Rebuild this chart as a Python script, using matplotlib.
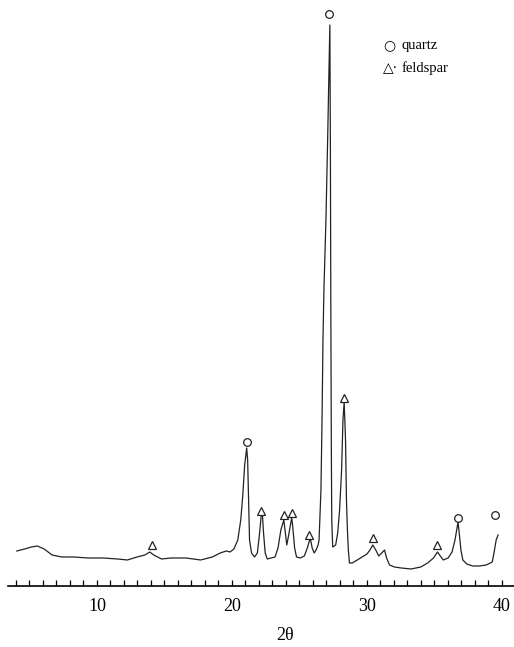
import matplotlib.pyplot as plt

# XRD pattern (2theta in degrees, intensity in arbitrary units)
two_theta = [
    4.06, 4.64, 5.14, 5.58, 6.09, 6.67, 7.39, 8.26, 9.35, 10.43,
    11.52, 12.25, 12.97, 13.55, 13.91, 14.20, 14.78, 15.51, 16.59, 17.68,
    18.55, 19.13, 19.57, 19.86, 20.14, 20.43, 20.65, 20.80, 20.94, 21.09,
    21.16, 21.23, 21.30, 21.45, 21.67, 21.88, 22.03, 22.17, 22.25, 22.32,
    22.46, 22.61, 22.90, 23.19, 23.41, 23.62, 23.84, 23.91, 24.06, 24.20,
    24.42, 24.49, 24.64, 24.78, 25.07, 25.36, 25.58, 25.80, 25.94, 26.09,
    26.23, 26.38, 26.45, 26.59, 26.67, 26.74, 26.81, 26.96, 27.10, 27.17,
    27.25, 27.29, 27.32, 27.36, 27.39, 27.46, 27.68, 27.83, 27.97, 28.12,
    28.22, 28.31, 28.41, 28.48, 28.55, 28.62, 28.70, 28.91, 29.28, 29.64,
    30.00, 30.22, 30.43, 30.65, 30.87, 31.09, 31.30, 31.45, 31.67, 32.03,
    32.54, 33.26, 33.99, 34.49, 34.93, 35.22, 35.43, 35.65, 36.01, 36.30,
    36.52, 36.67, 36.74, 36.81, 36.96, 37.10, 37.39, 37.83, 38.33, 38.84,
    39.28, 39.42, 39.57, 39.71,
]
intensity = [
    35, 37, 39, 40, 37, 31, 29, 29, 28, 28,
    27, 26, 29, 31, 34, 31, 27, 28, 28, 26,
    29, 33, 35, 34, 37, 46, 66, 91, 121, 138,
    126, 86, 46, 33, 29, 33, 51, 71, 73, 56,
    33, 27, 28, 29, 38, 56, 66, 58, 41, 51,
    68, 61, 38, 29, 28, 30, 38, 48, 38, 33,
    36, 41, 46, 96, 166, 246, 296, 366, 456, 506,
    561, 436, 286, 136, 66, 39, 41, 53, 76, 116,
    166, 184, 146, 86, 56, 36, 23, 23, 26, 29,
    32, 36, 41, 36, 30, 33, 36, 28, 21, 19,
    18, 17, 19, 23, 28, 34, 30, 26, 28, 34,
    46, 58, 64, 56, 36, 26, 22, 20, 20, 21,
    24, 34, 46, 51,
]

# peak labels
quartz_pos = [27.17, 21.09, 36.74, 39.50]
quartz_int = [572, 144, 68, 71]
feldspar_pos = [14.06, 22.17, 23.84, 24.42, 25.72, 28.33, 30.43, 35.22]
feldspar_int = [41, 75, 71, 73, 51, 188, 48, 41]

fig = plt.figure(figsize=(5.14, 6.47), dpi=100)
ax = fig.add_axes([0.0156, 0.0943, 0.9844, 0.9057])

ax.plot(two_theta, intensity, color='#222222', lw=0.9)
ax.plot(quartz_pos, quartz_int, 'o', mfc='white', mec='#222222', ms=5.5, mew=0.9)
ax.plot(feldspar_pos, feldspar_int, '^', mfc='white', mec='#222222', ms=5.5, mew=0.9)

ax.set_xlim(3.41, 40.89)
ax.set_ylim(0, 586)

for s in ['left', 'right', 'top']:
    ax.spines[s].set_visible(False)
ax.spines['bottom'].set_linewidth(1.2)
ax.set_yticks([])
ax.set_xticks([10, 20, 30, 40])
ax.set_xticks(range(4, 41), minor=True)
ax.tick_params(axis='x', which='both', direction='in', length=4.5, width=0.9, pad=9)
ax.set_xticklabels(['10', '20', '30', '40'], fontfamily='Liberation Serif', fontsize=13)

fig.text(285 / 514, 1 - 635 / 647, '2θ', ha='center', va='center',
         fontfamily='Liberation Serif', fontsize=13)

# legend
fig.text(383 / 514, 1 - 45 / 647, '○', ha='left', va='center',
         fontfamily='DejaVu Sans', fontsize=10)
fig.text(402 / 514, 1 - 45 / 647, 'quartz', ha='left', va='center',
         fontfamily='Liberation Serif', fontsize=10.5)
fig.text(383 / 514, 1 - 68 / 647, '△·', ha='left', va='center',
         fontfamily='DejaVu Sans', fontsize=10)
fig.text(402 / 514, 1 - 68 / 647, 'feldspar', ha='left', va='center',
         fontfamily='Liberation Serif', fontsize=10.5)

fig.savefig('out.png', dpi=100)
